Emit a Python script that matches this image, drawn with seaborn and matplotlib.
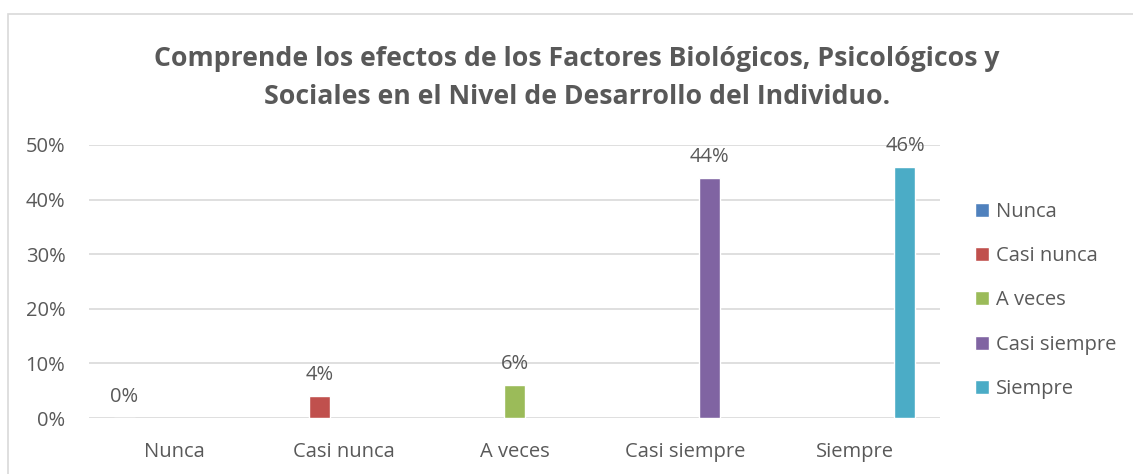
import matplotlib
matplotlib.use("Agg")
import matplotlib.pyplot as plt
import seaborn as sns
import pandas as pd
from matplotlib.patches import Rectangle

categories = ["Nunca", "Casi nunca", "A veces", "Casi siempre", "Siempre"]
values = [0.00, 0.04, 0.06, 0.44, 0.46]
colors = ["#4F81BD", "#C0504D", "#9BBB59", "#8064A2", "#4BACC6"]
title = "Comprende los efectos de los Factores Biológicos, Psicológicos y\nSociales en el Nivel de Desarrollo del Individuo."
yticks = [0, 0.1, 0.2, 0.3, 0.4, 0.5]
ytick_labels = ["0%", "10%", "20%", "30%", "40%", "50%"]

df = pd.DataFrame({"cat": categories, "serie": categories, "val": values})

sns.set_theme(style="white")
FONT = ["Open Sans", "DejaVu Sans"]
plt.rcParams["font.family"] = FONT
TXT = "#595959"
FS = 14.5

fig = plt.figure(figsize=(11.33, 4.74), dpi=100)
fig.patches.append(Rectangle((8 / 1133, -0.1), 1.2, 1 - 14 / 474 + 0.1, transform=fig.transFigure,
                             fill=False, edgecolor="#d9d9d9", linewidth=1.2))
ax = fig.add_axes([89 / 1133, 1 - 418 / 474, 851 / 1133, (418 - 145) / 474])

sns.barplot(data=df, x="cat", y="val", hue="serie", order=categories, hue_order=categories,
            palette=colors, dodge=True, width=0.735, gap=0.16, ax=ax, legend=True, saturation=1)

for cont in ax.containers:
    ax.bar_label(cont, labels=[f"{v*100:.0f}%" for v in cont.datavalues], padding=8,
                 fontsize=FS, color=TXT)

ax.set_ylim(0, 0.5)
ax.set_xlim(-0.5, 4.5)
ax.set_yticks(yticks)
ax.set_yticklabels(ytick_labels)
ax.grid(axis="y", color="#d9d9d9", linewidth=1.2)
ax.set_axisbelow(True)
for s in ax.spines.values():
    s.set_visible(False)
ax.tick_params(axis="y", length=0, pad=17, labelsize=FS, labelcolor=TXT)
ax.tick_params(axis="x", length=0, pad=17, labelsize=FS, labelcolor=TXT)
ax.set_xlabel("")
ax.set_ylabel("")

leg = ax.legend(loc="upper left", bbox_to_anchor=(957 / 1133, 1 - 184 / 474), bbox_transform=fig.transFigure,
                frameon=False, fontsize=FS, labelspacing=1.2, handlelength=0.7, handleheight=0.7,
                handletextpad=0.35, labelcolor=TXT)

fig.text(577 / 1133, 1 - 78 / 474, title, ha="center", va="center", fontsize=19.2, fontweight="bold",
         color=TXT, linespacing=1.62)

fig.savefig("out.png", dpi=100)
